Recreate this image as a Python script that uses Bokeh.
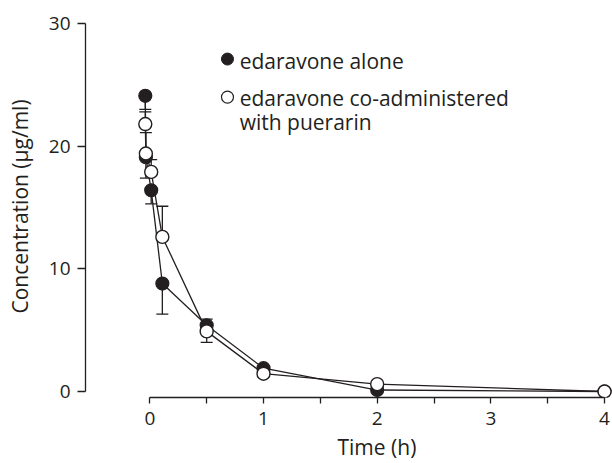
from bokeh.plotting import figure
from bokeh.models import Range1d, FixedTicker, Whisker, TeeHead, ColumnDataSource, Label, Title
from bokeh.embed import file_html
from bokeh.resources import INLINE

# ---- data ----
time_h = [-0.04, -0.035, 0.012, 0.11, 0.5, 1.0, 2.0, 4.0]
alone_mean = [24.1, 19.1, 16.4, 8.8, 5.4, 1.9, 0.12, 0.0]
alone_err_lo = [1.1, 1.7, 1.1, 2.5, 0.0, 0.0, 0.0, 0.0]
alone_err_hi = [0.0, 0.0, 0.0, 0.0, 0.5, 0.0, 0.0, 0.0]
combo_mean = [21.8, 19.4, 17.9, 12.6, 4.9, 1.45, 0.6, 0.0]
combo_err_lo = [0.0, 0.0, 0.0, 0.0, 0.9, 0.0, 0.0, 0.0]
combo_err_hi = [1.0, 1.7, 1.0, 2.5, 0.0, 0.0, 0.0, 0.0]

x_ticks = [0, 1, 2, 3, 4]
x_minor = [0.5, 1.5, 2.5, 3.5]
y_ticks = [0, 10, 20, 30]

legend_alone = "edaravone alone"
legend_combo = ["edaravone co-administered", "with puerarin"]

INK = "#231f20"
FONT = "Open Sans"

src_a = ColumnDataSource(dict(
    t=time_h, y=alone_mean,
    lo=[m - e for m, e in zip(alone_mean, alone_err_lo)],
    hi=[m + e for m, e in zip(alone_mean, alone_err_hi)],
))
src_c = ColumnDataSource(dict(
    t=time_h, y=combo_mean,
    lo=[m - e for m, e in zip(combo_mean, combo_err_lo)],
    hi=[m + e for m, e in zip(combo_mean, combo_err_hi)],
))

p = figure(width=612, height=463, output_backend="svg", toolbar_location=None,
           x_range=Range1d(-0.566, 4.07), y_range=Range1d(-0.49, 30.65),
           min_border_left=85, min_border_right=0, min_border_top=15,
           min_border_bottom=65)
p.outline_line_color = None
p.xgrid.visible = False
p.ygrid.visible = False
p.background_fill_color = "white"
p.border_fill_color = "white"

# axes
xa = p.xaxis[0]
xa.ticker = FixedTicker(ticks=x_ticks, minor_ticks=x_minor)
xa.bounds = (0, 4)
xa.axis_line_color = INK
xa.axis_line_width = 1.3
xa.major_tick_line_color = INK
xa.minor_tick_line_color = INK
xa.major_tick_line_width = 1.3
xa.minor_tick_line_width = 1.3
xa.major_tick_in = 0
xa.major_tick_out = 6
xa.minor_tick_in = 0
xa.minor_tick_out = 6
xa.major_label_standoff = 8
xa.major_label_text_font = FONT
xa.major_label_text_font_size = "19px"
xa.major_label_text_color = INK

ya = p.yaxis[0]
ya.ticker = FixedTicker(ticks=y_ticks, minor_ticks=[])
ya.bounds = (0, 30)
ya.axis_line_color = INK
ya.axis_line_width = 1.3
ya.major_tick_line_color = INK
ya.major_tick_line_width = 1.3
ya.major_tick_in = 0
ya.major_tick_out = 8
ya.minor_tick_in = 0
ya.minor_tick_out = 0
ya.major_label_standoff = 7
ya.major_label_text_font = FONT
ya.major_label_text_font_size = "19px"
ya.major_label_text_color = INK
ya.axis_label = "Concentration (\u03bcg/ml)"
ya.axis_label_text_font = FONT
ya.axis_label_text_font_size = "21px"
ya.axis_label_text_font_style = "normal"
ya.axis_label_text_color = INK
ya.axis_label_standoff = 12

# lines
p.line("t", "y", source=src_a, line_color=INK, line_width=1.3)
p.line("t", "y", source=src_c, line_color=INK, line_width=1.3)

# error bars
for src in (src_a, src_c):
    w = Whisker(source=src, base="t", lower="lo", upper="hi", dimension="height",
                line_color=INK, line_width=1.3,
                lower_head=TeeHead(size=12, line_color=INK, line_width=1.3),
                upper_head=TeeHead(size=12, line_color=INK, line_width=1.3))
    p.add_layout(w)

# markers
p.scatter("t", "y", source=src_a, size=13, marker="circle",
          fill_color=INK, line_color=INK, line_width=1.2)
p.scatter("t", "y", source=src_c, size=13, marker="circle",
          fill_color="white", line_color=INK, line_width=1.4)

# legend (manual)
p.scatter([0.683], [27.1], size=12, marker="circle", fill_color=INK, line_color=INK)
p.scatter([0.683], [24.0], size=12, marker="circle", fill_color="white",
          line_color=INK, line_width=1.2)
for txt, yv in ((legend_alone, 26.95), (legend_combo[0], 23.9), (legend_combo[1], 21.95)):
    p.add_layout(Label(x=0.79, y=yv, text=txt, text_font=FONT, text_font_size="21px",
                       text_color=INK, text_baseline="alphabetic", text_align="left"))

# x axis title, centred on the 0-4 axis
p.add_layout(Title(text="Time (h)", align="left", offset=252, text_font=FONT,
                   text_font_size="21px", text_font_style="normal", text_color=INK,
                   standoff=6), "below")

open("out.html", "w").write(file_html(p, INLINE))
